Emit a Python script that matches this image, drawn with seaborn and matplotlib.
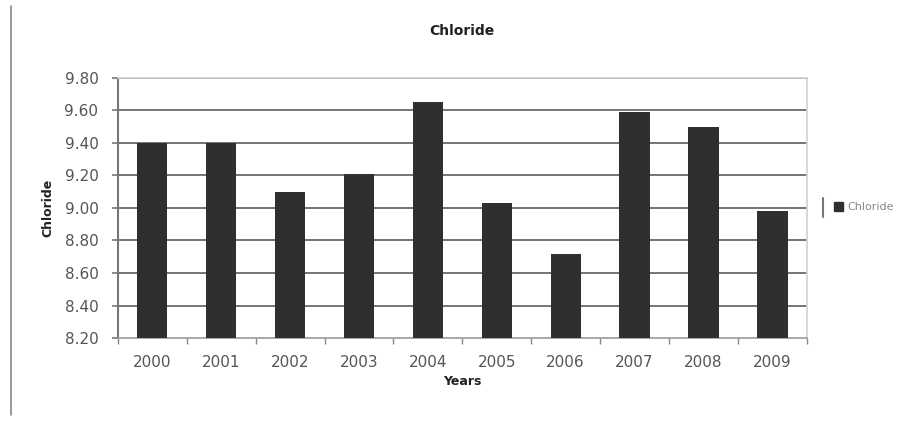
import matplotlib
matplotlib.use("Agg")
import matplotlib.pyplot as plt
from matplotlib.lines import Line2D
from matplotlib.patches import Patch
import seaborn as sns
import pandas as pd
import numpy as np

years = ["2000", "2001", "2002", "2003", "2004", "2005", "2006", "2007", "2008", "2009"]
chloride = [9.40, 9.40, 9.10, 9.21, 9.65, 9.03, 8.72, 9.59, 9.50, 8.98]
y_ticks = [8.20, 8.40, 8.60, 8.80, 9.00, 9.20, 9.40, 9.60, 9.80]

df = pd.DataFrame({"Years": years, "Chloride": chloride})

sns.set_theme(style="white")
plt.rcParams["font.family"] = ["DejaVu Sans"]

fig = plt.figure(figsize=(9.21, 4.21), dpi=100)
ax = fig.add_axes([0.128, 0.197, 0.748, 0.618])

sns.barplot(data=df, x="Years", y="Chloride", color="#2f2f2f", width=0.44,
            saturation=1, linewidth=0, ax=ax, zorder=3)

ax.set_ylim(8.20, 9.80)
ax.set_yticks(y_ticks)
ax.set_yticklabels([f"{v:.2f}" for v in y_ticks])
ax.set_xlim(-0.5, len(years) - 0.5)

# horizontal gridlines
for v in y_ticks[1:]:
    ax.axhline(v, color="#6a6a6a", lw=1.3, zorder=1)

for side in ("top", "right"):
    ax.spines[side].set_color("#d0d0d0")
    ax.spines[side].set_linewidth(1.2)
ax.spines["left"].set_color("#777777")
ax.spines["left"].set_linewidth(1.5)
ax.spines["bottom"].set_color("#9a9a9a")
ax.spines["bottom"].set_linewidth(1.2)

ax.tick_params(axis="y", left=True, length=4, width=1.2, color="#777777",
               labelsize=11, labelcolor="#555555", pad=10)
ax.tick_params(axis="x", bottom=False, labelsize=11, labelcolor="#555555", pad=6)

# tick marks between categories on the x axis
ax.set_xticks(np.arange(-0.5, len(years) + 0.5, 1.0), minor=True)
ax.tick_params(axis="x", which="minor", bottom=True, length=4, width=1.0,
               color="#888888", direction="out")

ax.set_xlabel("Years", fontsize=9, fontweight="bold", color="#222222", labelpad=4)
ax.set_ylabel("Chloride", fontsize=9, fontweight="bold", color="#222222")
ax.yaxis.set_label_coords(-0.092, 0.5)
ax.set_title("Chloride", fontsize=10, fontweight="bold", color="#222222", pad=31)

# legend to the right of the plot
handle = Patch(facecolor="#2f2f2f", edgecolor="#2f2f2f")
fig.legend([handle], ["Chloride"], loc="center left", bbox_to_anchor=(0.895, 0.508),
           frameon=False, fontsize=8, labelcolor="#888888", handlelength=0.8,
           handleheight=0.8, handletextpad=0.4)
fig.add_artist(Line2D([0.894, 0.894], [0.485, 0.53], color="#777777", lw=1.5))

# chart frame edge on the left
fig.add_artist(Line2D([0.012, 0.012], [0.015, 0.985], color="#888888", lw=1.2))

fig.savefig("out.png", dpi=100, facecolor="white")
